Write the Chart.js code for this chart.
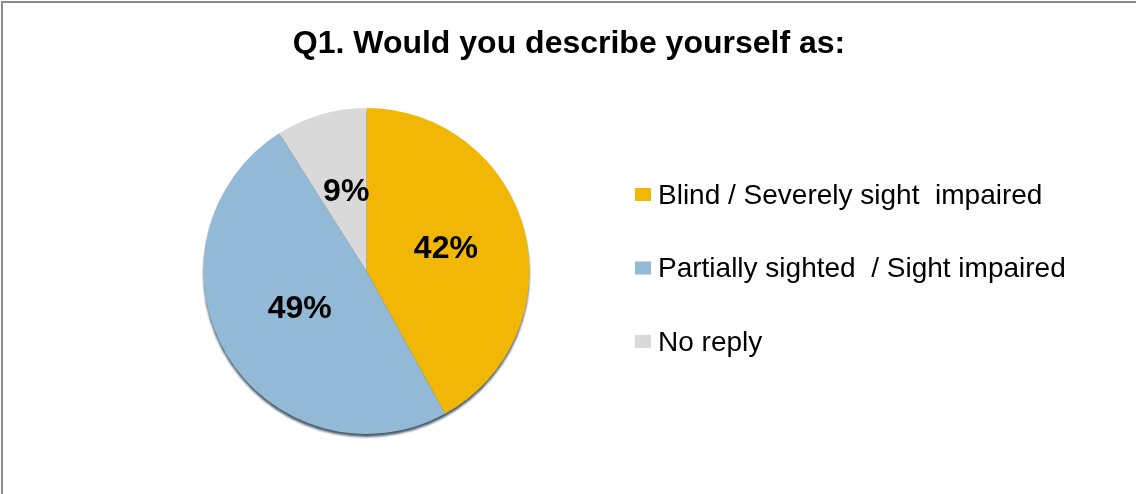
<!DOCTYPE html>
<html>
<head>
<meta charset="utf-8">
<script src="https://cdn.jsdelivr.net/npm/chart.js@4"></script>
<style>
  html, body { margin: 0; padding: 0; background: #fff; }
  #wrap { position: relative; width: 1136px; height: 494px; }
  #wrap::before {
    content: ""; position: absolute; left: 1px; top: 1px; right: 0; bottom: 0;
    border-left: 2px solid #8c8c8c; border-top: 2px solid #8c8c8c; pointer-events: none;
  }
</style>
</head>
<body>
<div id="wrap"><canvas id="pieChart" width="1136" height="494"></canvas></div>
<script>
const chartTitle = "Q1. Would you describe yourself as:";
const categories = ["Blind / Severely sight  impaired", "Partially sighted  / Sight impaired", "No reply"];
const shares = [42, 49, 9];
const sliceColors = ["#f2b705", "#92b9d6", "#d9d9d9"];

const FONT = "'Liberation Sans', Arial, sans-serif";

// title, slice labels and the right-hand legend
const textPlugin = {
    id: "textPlugin",
    beforeDatasetsDraw(chart) {
        // dark rim under the pie
        const arc = chart.getDatasetMeta(0).data[0];
        const { x, y, outerRadius } = arc.getProps(["x", "y", "outerRadius"], true);
        const ctx = chart.ctx;
        ctx.save();
        ctx.beginPath();
        ctx.arc(x, y + 3, outerRadius, 0, Math.PI * 2);
        ctx.fillStyle = "#4a5d6e";
        ctx.filter = "blur(1px)";
        ctx.fill();
        ctx.restore();
    },
    afterDraw(chart) {
        const ctx = chart.ctx;
        ctx.save();
        ctx.fillStyle = "#000";
        ctx.textBaseline = "middle";

        ctx.font = "bold 32px " + FONT;
        ctx.textAlign = "center";
        ctx.fillText(chartTitle, 569, 44);

        // percentages inside slices
        chart.getDatasetMeta(0).data.forEach((el, i) => {
            const p = el.getProps(["x", "y", "startAngle", "endAngle", "outerRadius"], true);
            const mid = (p.startAngle + p.endAngle) / 2;
            const r = p.outerRadius * 0.49;
            ctx.font = "bold 32px " + FONT;
            ctx.fillText(shares[i] + "%", p.x + Math.cos(mid) * r + 2, p.y + Math.sin(mid) * r - 2);
        });

        // legend
        ctx.textAlign = "left";
        ctx.font = "28px " + FONT;
        categories.forEach((name, i) => {
            const rowY = 195 + i * 73.5;
            ctx.fillStyle = sliceColors[i];
            ctx.fillRect(635, rowY - 7, 16, 13);
            ctx.fillStyle = "#000";
            ctx.fillText(name, 658, rowY + 1);
        });
        ctx.restore();
    }
};

new Chart(document.getElementById("pieChart"), {
    type: "pie",
    data: {
        labels: categories,
        datasets: [{
            data: shares,
            backgroundColor: sliceColors,
            borderWidth: 0
        }]
    },
    options: {
        responsive: false,
        animation: false,
        layout: { padding: { left: 202, right: 605, top: 108, bottom: 60 } },
        plugins: {
            legend: { display: false },
            tooltip: { enabled: false }
        }
    },
    plugins: [textPlugin]
});
</script>
</body>
</html>
